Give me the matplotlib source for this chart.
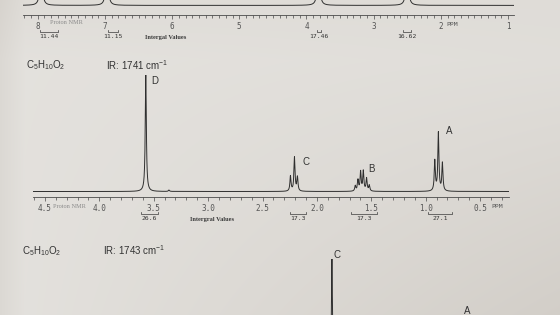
import numpy as np
import matplotlib.pyplot as plt
from matplotlib.ticker import MultipleLocator, FormatStrFormatter
from matplotlib.transforms import blended_transform_factory

plt.rcParams['font.family'] = 'Liberation Sans'
plt.rcParams['mathtext.default'] = 'regular'

# ---- values ----
# top strip: only the foot of the previous spectrum is on the photo
top_ppm = [7.95, 6.97, 3.82, 2.50]
top_height = [1.0, 1.0, 1.0, 1.0]
top_int_lo = [7.70, 6.81, 3.79, 2.44]
top_int_hi = [7.96, 6.96, 3.85, 2.57]
top_int_val = ['11.44', '11.15', '17.46', '16.62']

# middle spectrum, C5H10O2, IR 1741
mid_ppm = [3.573, 3.36, 2.243, 2.206, 2.179,
           1.647, 1.622, 1.598, 1.573, 1.543, 1.518,
           0.916, 0.883, 0.846]
mid_height = [1.0, 0.012, 0.13, 0.29, 0.12,
              0.045, 0.094, 0.165, 0.171, 0.109, 0.05,
              0.26, 0.50, 0.24]
mid_labels = ['D', 'C', 'B', 'A']
mid_label_ppm = [3.573, 2.206, 1.573, 0.883]
mid_int_lo = [3.46, 2.10, 1.445, 0.757]
mid_int_hi = [3.62, 2.25, 1.69, 0.977]
mid_int_val = ['26.6', '17.3', '17.3', '27.1']

# bottom spectrum, C5H10O2, IR 1743 (only the top is on the photo)
bot_ppm = [1.834, 0.69, 0.66]
bot_height = [1.0, 0.47, 0.47]
bot_labels = ['C', 'A']
bot_label_ppm = [1.834, 0.675]

W, H = 560, 315
fig = plt.figure(figsize=(5.6, 3.15), dpi=100)

# paper background (photo shading)
yy, xx = np.mgrid[0:H, 0:W]
base = np.array([0.893, 0.884, 0.868])
dark = (0.075 * (xx / W) * (yy / H) + 0.035 * np.clip(1 - xx / 25, 0, 1)
        + 0.02 * np.clip(1 - yy / 60, 0, 1))
img = base[None, None, :] - dark[:, :, None] * np.array([0.9, 1.0, 1.1])
bg = fig.add_axes([0, 0, 1, 1], zorder=-5)
bg.imshow(np.clip(img, 0, 1), aspect='auto', extent=(0, W, H, 0))
bg.axis('off')

ink = '#2f2f2f'


def spectrum(ppm, height, lo, hi, g):
    x = np.linspace(lo, hi, 30000)
    y = np.zeros_like(x)
    for p, h in zip(ppm, height):
        y += h * g**2 / ((x - p)**2 + g**2)
    return x, y


def make_axes(left, spine_y, width, height, xlim, base_px):
    # left/spine_y/width/height in pixels; base_px = gap between baseline and spine
    ax = fig.add_axes([left / W, (H - spine_y) / H, width / W, height / H])
    b = -base_px / (height - base_px)
    ax.set_xlim(*xlim)
    ax.set_ylim(b, 1)
    ax.patch.set_alpha(0)
    for s in ['left', 'right', 'top']:
        ax.spines[s].set_visible(False)
    ax.spines['bottom'].set_color('#4a4a4a')
    ax.spines['bottom'].set_linewidth(0.6)
    ax.set_yticks([])
    ax.tick_params(axis='x', which='both', direction='out', colors='#4a4a4a',
                   width=0.5, labelsize=5.5, pad=1.5, labelcolor='#555555')
    ax.tick_params(axis='x', which='major', length=3.2)
    ax.tick_params(axis='x', which='minor', length=2.0)
    return ax


def integrals(ax, lo, hi, vals, h_px):
    tr = blended_transform_factory(ax.transData, ax.transAxes)
    f = lambda p: -p / h_px
    for a, c, v in zip(lo, hi, vals):
        ax.plot([a, a, c, c], [f(14.5), f(16.5), f(16.5), f(14.5)],
                color='#3a3a3a', lw=0.5, clip_on=False, transform=tr)
        ax.text((a + c) / 2, f(22), v, ha='center', va='center', fontsize=4.6,
                family='DejaVu Sans Mono', color='#333333', clip_on=False,
                transform=tr)


# ---- top strip ----
ax_t = make_axes(23, 15, 491, 115, (8.22, 0.91), 9.6)
x, y = spectrum(top_ppm, top_height, 0.91, 8.22, 0.011)
ax_t.plot(x, y, color=ink, lw=0.7)
ax_t.xaxis.set_major_locator(MultipleLocator(1))
ax_t.xaxis.set_minor_locator(MultipleLocator(0.1))
ax_t.xaxis.set_major_formatter(FormatStrFormatter('%d'))
for lab in ax_t.get_xticklabels():
    lab.set_family('DejaVu Sans Mono')
integrals(ax_t, top_int_lo, top_int_hi, top_int_val, 115)
ax_t.annotate('PPM', xy=(2, 0), xycoords=('data', 'axes fraction'),
              xytext=(4, -6.5), textcoords='offset points', fontsize=4.6,
              family='DejaVu Sans Mono', color='#555555', va='center')

# ---- middle spectrum ----
ax_m = make_axes(33, 197, 476, 122, (4.61, 0.234), 5.5)
x, y = spectrum(mid_ppm, mid_height, 0.234, 4.61, 0.006)
ax_m.plot(x, y, color=ink, lw=0.7)
ax_m.xaxis.set_major_locator(MultipleLocator(0.5))
ax_m.xaxis.set_minor_locator(MultipleLocator(0.1))
ax_m.xaxis.set_major_formatter(FormatStrFormatter('%.1f'))
for lab in ax_m.get_xticklabels():
    lab.set_family('DejaVu Sans Mono')
integrals(ax_m, mid_int_lo, mid_int_hi, mid_int_val, 122)
ax_m.annotate('PPM', xy=(0.5, 0), xycoords=('data', 'axes fraction'),
              xytext=(8, -6.5), textcoords='offset points', fontsize=4.6,
              family='DejaVu Sans Mono', color='#555555', va='center')
mid_off = [(6.5, -4.5), (8, -3), (6, 1.5), (7.5, 1.5)]
for lab, p, off in zip(mid_labels, mid_label_ppm, mid_off):
    h = max(hh for pp, hh in zip(mid_ppm, mid_height) if abs(pp - p) < 0.1)
    ax_m.annotate(lab, xy=(p, h), xytext=off, textcoords='offset points',
                  fontsize=7, color='#333333', ha='center', va='center')

# ---- bottom spectrum ----
ax_b = make_axes(30, 381, 476, 122, (4.61, 0.234), 5.5)
x, y = spectrum(bot_ppm, bot_height, 0.234, 4.61, 0.006)
ax_b.plot(x, y, color=ink, lw=0.7)
ax_b.set_xticks([])
bot_off = [(3.5, 3), (6.5, 7)]
for lab, p, off in zip(bot_labels, bot_label_ppm, bot_off):
    h = max(hh for pp, hh in zip(bot_ppm, bot_height) if abs(pp - p) < 0.1)
    ax_b.annotate(lab, xy=(p, h), xytext=off, textcoords='offset points',
                  fontsize=7, color='#333333', ha='center', va='center',
                  annotation_clip=False)

# ---- header texts ----
fig.text(26 / W, 1 - 65 / H, r'C$_5$H$_{10}$O$_2$', fontsize=7, color='#333333',
         va='center')
fig.text(106 / W, 1 - 65 / H, r'IR: 1741 cm$^{-1}$', fontsize=7, color='#333333',
         va='center')
fig.text(22 / W, 1 - 251 / H, r'C$_5$H$_{10}$O$_2$', fontsize=7, color='#333333',
         va='center')
fig.text(103 / W, 1 - 250 / H, r'IR: 1743 cm$^{-1}$', fontsize=7, color='#333333',
         va='center')

fig.text(50 / W, 1 - 22 / H, 'Proton NMR', fontsize=4.5, family='Liberation Serif',
         color='#8a8a8a', va='center')
fig.text(53 / W, 1 - 206 / H, 'Proton NMR', fontsize=4.5, family='Liberation Serif',
         color='#8a8a8a', va='center')
fig.text(145 / W, 1 - 37 / H, 'Intergal Values', fontsize=4.6, family='Liberation Serif',
         weight='bold', color='#3a3a3a', va='center')
fig.text(190 / W, 1 - 219 / H, 'Intergral Values', fontsize=4.6, family='Liberation Serif',
         weight='bold', color='#3a3a3a', va='center')

fig.savefig('out.png', dpi=100)
